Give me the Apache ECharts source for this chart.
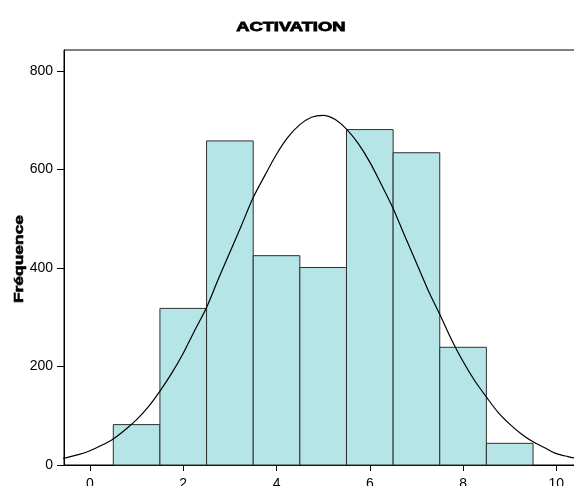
<!DOCTYPE html>
<html>
<head>
<meta charset="utf-8">
<script src="https://cdn.jsdelivr.net/npm/echarts@6/dist/echarts.min.js"></script>
<style>
  html, body { margin: 0; padding: 0; background: #fff; }
  #chart { width: 574px; height: 486px; }
</style>
</head>
<body>
<div id="chart"></div>
<script>
// Histogram of ACTIVATION scores: bins of width 1 centred on 1..9
const binCenters = [1, 2, 3, 4, 5, 6, 7, 8, 9];
const frequencies = [82, 318, 658, 425, 401, 681, 634, 239, 44];

// Fitted normal curve, sampled every quarter unit
const curveX = [
  -1, -0.75, -0.5, -0.25, 0, 0.25, 0.5, 0.75, 1, 1.25, 1.5, 1.75, 2, 2.25, 2.5, 2.75,
  3, 3.25, 3.5, 3.75, 4, 4.25, 4.5, 4.75, 5, 5.25, 5.5, 5.75, 6, 6.25, 6.5, 6.75,
  7, 7.25, 7.5, 7.75, 8, 8.25, 8.5, 8.75, 9, 9.25, 9.5, 9.75, 10, 10.25, 10.5, 10.75, 11
];
const curveY = [
  7, 10, 15, 21, 29, 40, 53, 71, 92, 118, 150, 186, 227, 274, 320, 377,
  432, 487, 543, 588, 631, 666, 691, 706, 710, 702, 682, 653, 615, 569, 521, 465,
  410, 355, 306, 255, 210, 171, 138, 107, 83, 63, 47, 35, 23, 17, 12, 8, 6
];

const xTicks = [0, 2, 4, 6, 8, 10];
const yTicks = [0, 200, 400, 600, 800];

const titleText = 'ACTIVATION';
const yAxisTitle = 'Fréquence';

const FONT = '"Liberation Sans", Arial, sans-serif';

const histData = binCenters.map((c, i) => [c, frequencies[i]]);
const curveData = curveX.map((x, i) => [x, curveY[i]]);

const chart = echarts.init(document.getElementById('chart'), null, { renderer: 'canvas' });

chart.setOption({
  backgroundColor: '#ffffff',
  animation: false,
  grid: {
    left: 64, top: 50, width: 539, height: 415,
    outerBoundsMode: 'none',
    containLabel: false,
    show: true, borderColor: '#000', borderWidth: 1, backgroundColor: 'transparent'
  },
  xAxis: {
    type: 'value',
    min: -0.557,
    max: 11,
    splitLine: { show: false },
    axisLine: { show: true, onZero: false, lineStyle: { color: '#000', width: 1 } },
    axisTick: { show: true, customValues: xTicks, length: 6, lineStyle: { color: '#000' } },
    axisLabel: {
      customValues: xTicks, margin: 12, hideOverlap: false,
      color: '#000', fontFamily: FONT, fontSize: 14
    }
  },
  yAxis: {
    type: 'value',
    min: 0,
    max: 842.6,
    splitLine: { show: false },
    axisLine: { show: true, onZero: false, lineStyle: { color: '#000', width: 1 } },
    axisTick: { show: true, customValues: yTicks, length: 7, lineStyle: { color: '#000' } },
    axisLabel: {
      customValues: yTicks, margin: 11,
      color: '#000', fontFamily: FONT, fontSize: 14
    }
  },
  graphic: [
    {
      type: 'text',
      x: 290.8, y: 27.5,
      scaleX: 1.41,
      style: {
        text: titleText, x: 0, y: 0,
        align: 'center', verticalAlign: 'middle',
        font: 'bold 13px ' + FONT, fill: '#000',
        stroke: '#000', lineWidth: 0.8
      }
    },
    {
      type: 'text',
      x: 19, y: 259,
      rotation: Math.PI / 2,
      scaleX: 1.34,
      style: {
        text: yAxisTitle, x: 0, y: 0,
        align: 'center', verticalAlign: 'middle',
        font: 'bold 13px ' + FONT, fill: '#000',
        stroke: '#000', lineWidth: 0.6
      }
    }
  ],
  series: [
    {
      type: 'custom',
      data: histData,
      encode: { x: 0, y: 1 },
      z: 2,
      renderItem: function (params, api) {
        const c = api.value(0);
        const v = api.value(1);
        const topLeft = api.coord([c - 0.5, v]);
        const bottomRight = api.coord([c + 0.5, 0]);
        return {
          type: 'rect',
          shape: {
            x: topLeft[0], y: topLeft[1],
            width: bottomRight[0] - topLeft[0],
            height: bottomRight[1] - topLeft[1]
          },
          style: { fill: '#b5e5e7', stroke: '#2f2f2f', lineWidth: 1 }
        };
      }
    },
    {
      type: 'line',
      data: curveData,
      smooth: 0.3,
      showSymbol: false,
      clip: true,
      z: 3,
      lineStyle: { color: '#000', width: 1.2 }
    }
  ]
});
</script>
</body>
</html>
